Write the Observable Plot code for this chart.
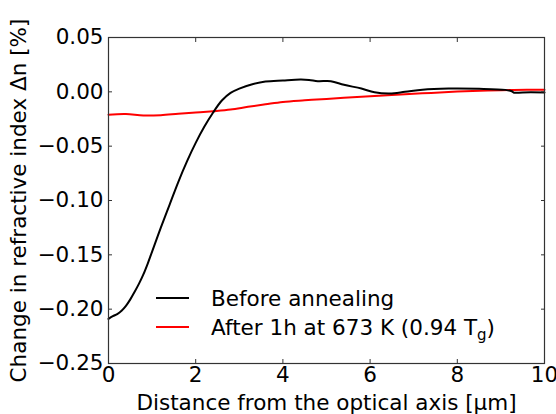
<!DOCTYPE html>
<html>
<head>
<meta charset="utf-8">
<script src="https://cdn.jsdelivr.net/npm/d3@7"></script>
<script src="https://cdn.jsdelivr.net/npm/@observablehq/plot@0.6"></script>
<style>
  html, body { margin: 0; padding: 0; background: #fff; }
  svg { display: block; }
</style>
</head>
<body>
<div id="chart"></div>
<script>
// Before annealing (black)
const beforeX = [0, 0.1, 0.2, 0.3, 0.4, 0.5, 0.6, 0.7, 0.8, 0.9, 1.0, 1.2, 1.4, 1.6, 1.8, 2.0, 2.2, 2.4, 2.6, 2.8, 3.0, 3.3, 3.6, 4.0, 4.4, 4.6, 4.8, 5.1, 5.4, 5.8, 6.1, 6.45, 6.8, 7.2, 7.8, 8.5, 9.1, 9.25, 9.3, 9.5, 10];
const beforeY = [-0.209, -0.2065, -0.2045, -0.2015, -0.197, -0.191, -0.184, -0.1765, -0.168, -0.158, -0.147, -0.125, -0.104, -0.083, -0.064, -0.047, -0.032, -0.019, -0.008, -0.001, 0.003, 0.007, 0.0095, 0.0105, 0.0113, 0.011, 0.0098, 0.0098, 0.0065, 0.003, -0.0004, -0.0015, 0.0, 0.002, 0.003, 0.0028, 0.0018, 0.0005, -0.0008, -0.0005, -0.0005];
// After 1h at 673 K (red)
const afterX = [0, 0.4, 0.8, 1.2, 1.6, 2.0, 2.4, 2.8, 3.2, 3.6, 4.0, 4.5, 5.0, 5.6, 6.2, 6.8, 7.4, 8.0, 8.7, 9.3, 10];
const afterY = [-0.021, -0.0205, -0.0218, -0.0215, -0.0202, -0.019, -0.0178, -0.0163, -0.0138, -0.0115, -0.0093, -0.0078, -0.0065, -0.005, -0.0037, -0.0022, -0.001, 0.0002, 0.0012, 0.0018, 0.002];

const xTicks = [0, 2, 4, 6, 8, 10];
const yTicks = [-0.25, -0.20, -0.15, -0.10, -0.05, 0.00, 0.05];
const xInner = [2, 4, 6, 8];
const yInner = [-0.20, -0.15, -0.10, -0.05, 0.00];

const seriesNames = ["Before annealing", "After 1h at 673 K (0.94 T", "g", ")"];

const before = beforeX.map((x, i) => ({x, y: beforeY[i]}));
const after = afterX.map((x, i) => ({x, y: afterY[i]}));

const fmt = d3.format(".2f");
const FONT = "DejaVu Sans, Verdana, sans-serif";
const FS = 21.5;
const ML = 108, MR = 12, MT = 37, MB = 51;

const plot = Plot.plot({
  width: 556,
  height: 414,
  marginLeft: ML,
  marginRight: MR,
  marginTop: MT,
  marginBottom: MB,
  style: {fontFamily: FONT, fontSize: FS + "px", color: "#000", background: "#fff"},
  x: {domain: [0, 10]},
  y: {domain: [-0.25, 0.05]},
  marks: [
    Plot.line(after, {x: "x", y: "y", stroke: "#ff0000", strokeWidth: 2, curve: "catmull-rom"}),
    Plot.line(before, {x: "x", y: "y", stroke: "#000", strokeWidth: 2, curve: "catmull-rom"}),
    Plot.axisX(xTicks, {anchor: "bottom", tickSize: 4, dy: -4, tickPadding: 3, stroke: "#333", fill: "#000",
      fontSize: FS, label: "Distance from the optical axis [μm]", labelAnchor: "center", labelOffset: 46, labelArrow: "none"}),
    Plot.axisX(xInner, {anchor: "top", tickSize: 4, dy: 4, tickFormat: () => "", stroke: "#333", label: null}),
    Plot.axisY(yTicks, {anchor: "left", tickSize: 0, tickPadding: 5, tickFormat: fmt, fill: "#000", fontSize: FS,
      label: "Change in refractive index Δn [%]", labelAnchor: "center", labelOffset: 98, labelArrow: "none"}),
    Plot.axisY(yInner, {anchor: "left", tickSize: 4, dx: 4, tickFormat: () => "", stroke: "#333", label: null}),
    Plot.axisY(yInner, {anchor: "right", tickSize: 4, dx: -4, tickFormat: () => "", stroke: "#333", label: null}),
    Plot.frame({stroke: "#333", strokeWidth: 1.2})
  ]
});

// legend inside the plot area
const svg = d3.select(plot);
const lg = svg.append("g").attr("font-family", FONT).attr("font-size", FS).attr("text-anchor", "start");
const entries = [
  {color: "#000", y: 298},
  {color: "#ff0000", y: 327}
];
entries.forEach((e, i) => {
  lg.append("line").attr("x1", 156).attr("x2", 189).attr("y1", e.y).attr("y2", e.y)
    .attr("stroke", e.color).attr("stroke-width", 2);
  const t = lg.append("text").attr("x", 211).attr("y", e.y).attr("dy", "0.35em").attr("fill", "#000");
  if (i === 0) {
    t.text(seriesNames[0]);
  } else {
    t.append("tspan").text(seriesNames[1]);
    t.append("tspan").attr("font-size", 15).attr("dy", 5).text(seriesNames[2]);
    t.append("tspan").attr("dy", -5).text(seriesNames[3]);
  }
});

document.getElementById("chart").appendChild(plot);
</script>
</body>
</html>
